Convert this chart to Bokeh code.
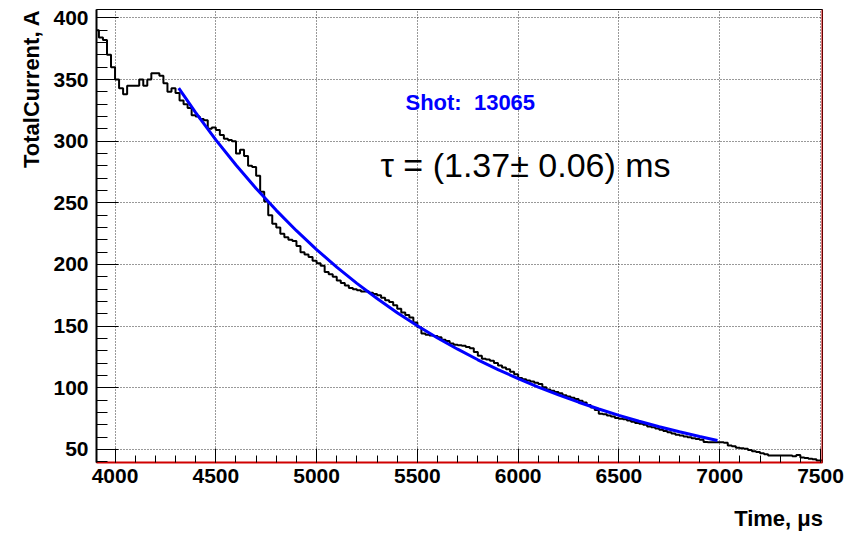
import numpy as np
from bokeh.plotting import figure
from bokeh.models import FixedTicker, Label, Span, Range1d, Title, LinearAxis
from bokeh.embed import file_html
from bokeh.resources import INLINE

# ---------------- data ----------------
bin_start = 3900      # us, left edge of first bin
bin_width = 20        # us
current = [
    390, 384, 382, 370, 360, 350, 343, 338, 345, 345,
    345, 350, 345, 350, 355, 355, 353, 347, 340, 343,
    339, 333, 330, 327, 321, 320, 318, 317, 310, 311,
    309, 305, 302, 301, 300, 290, 293, 288, 280, 279,
    272, 259, 251, 240, 233, 230, 225, 222, 220, 219,
    215, 210, 208, 206, 203, 201, 199, 194, 192, 190,
    187, 185, 183, 181, 180, 179, 178, 178, 177, 176,
    175, 173, 171, 169.5, 167, 164, 161, 159, 157, 153,
    149, 144, 143, 142.5, 142, 141, 139, 138, 136, 135,
    134.5, 134, 133, 132, 129, 126, 123.5, 123, 122, 120,
    118, 116.5, 115, 113, 111, 108, 107, 106, 105, 104,
    103, 100.5, 98.6, 97.5, 96.5, 95.5, 94, 93, 92, 91,
    89.5, 88, 86, 84, 82, 79, 78.5, 77.5, 76.7, 75.5,
    74.8, 74.5, 73.5, 72.5, 71.5, 70.8, 70, 68.6, 68, 67,
    65.9, 65, 64, 63, 62, 61.3, 60.5, 59.9, 59, 58.5,
    57.8, 56, 55.8, 55.8, 55.8, 55.8, 55.5, 53.2, 52.5, 51.3,
    51, 50.5, 49.5, 48.5, 48, 47, 46, 45, 45, 45,
    45, 45, 45, 44.5, 45.5, 43.5, 43, 42.5, 42, 41,
    41,
]

fit_time = [4316, 4400, 4500, 4600, 4700, 4800, 4900, 5000, 5100, 5200,
            5300, 5400, 5500, 5600, 5700, 5800, 5900, 6000, 6100, 6200,
            6300, 6400, 6500, 6600, 6700, 6800, 6900, 6989]
fit_current = [343, 323.2, 301.1, 280.7, 261.6, 243.9, 227.4, 212.1, 197.9, 184.7,
               172.4, 160.9, 150.3, 140.4, 131.3, 122.7, 114.8, 107.4, 100.5, 94.2,
               88.3, 82.8, 77.6, 72.9, 68.4, 64.3, 60.5, 57.2]

x_major = [4000, 4500, 5000, 5500, 6000, 6500, 7000, 7500]
y_major = [50, 100, 150, 200, 250, 300, 350, 400]

shot_text = "Shot:\u00a0\u00a013065"
tau_text = "\u03c4 = (1.37\u00b1 0.06) ms"
x_title = "Time, \u03bcs"
y_title = "TotalCurrent, A"

# ---------------- figure ----------------
FONT = "Liberation Sans"
X0, X1 = 3908, 7510
Y0, Y1 = 39.4, 406.8

p = figure(width=855, height=533, output_backend="svg", toolbar_location=None,
           x_range=Range1d(X0, X1), y_range=Range1d(Y0, Y1),
           min_border_left=96, min_border_right=33, min_border_top=9, min_border_bottom=71)
p.background_fill_color = "white"
p.border_fill_color = "white"
p.outline_line_color = "black"
p.outline_line_width = 1

x_minor = list(range(3900, 7501, 100))
y_minor = list(range(40, 401, 10))
xax = p.xaxis[0]
yax = p.yaxis[0]
xax.ticker = FixedTicker(ticks=x_major, minor_ticks=x_minor)
yax.ticker = FixedTicker(ticks=y_major, minor_ticks=y_minor)

for ax in (xax, yax):
    ax.major_label_text_font = FONT
    ax.major_label_text_font_style = "bold"
    ax.major_label_text_font_size = "21px"
    ax.major_label_text_color = "black"
    ax.major_tick_out = 0
    ax.minor_tick_out = 0
    ax.major_tick_line_color = "black"
    ax.minor_tick_line_color = "black"

xax.major_tick_in = 14
xax.minor_tick_in = 7
xax.major_label_standoff = 6
xax.axis_line_color = "#d00000"
xax.axis_line_width = 2

yax.major_tick_in = 22
yax.minor_tick_in = 11
yax.major_label_standoff = 8
yax.axis_line_color = "black"
yax.axis_line_width = 2

for g in (p.xgrid, p.ygrid):
    g.grid_line_color = "black"
    g.grid_line_dash = "1 2"
    g.grid_line_width = 1
    g.grid_line_alpha = 0.8

# histogram outline as steps
vals = np.array(current, dtype=float)
edges = bin_start + bin_width * np.arange(len(vals) + 1)
hx = np.repeat(edges, 2)[1:-1]
hy = np.repeat(vals, 2)
p.line(hx, hy, line_color="black", line_width=2)

# fit curve
p.line(fit_time, fit_current, line_color="#0000ff", line_width=3)

# right red edge
p.add_layout(Span(location=X1, dimension="height", line_color="#d00000", line_width=2))

# texts inside the frame
p.add_layout(Label(x=5441, y=331.4, text=shot_text, text_font=FONT, text_font_style="bold",
                   text_font_size="22px", text_color="#0000ff", text_baseline="middle"))
p.add_layout(Label(x=5317, y=280.3, text=tau_text, text_font=FONT,
                   text_font_size="34px", text_color="black", text_baseline="middle"))

# x-axis title: right-aligned under the axis, drawn as a second (bare) bottom axis
x_title_pos = 7292
title_axis = LinearAxis(ticker=FixedTicker(ticks=[x_title_pos], minor_ticks=[]),
                        major_label_overrides={x_title_pos: x_title},
                        axis_line_color=None, major_tick_line_color=None,
                        minor_tick_line_color=None, major_tick_out=0, major_tick_in=0,
                        minor_tick_out=0, minor_tick_in=0, major_label_standoff=20,
                        major_label_text_font=FONT, major_label_text_font_style="bold",
                        major_label_text_font_size="22px", major_label_text_color="black")
p.add_layout(title_axis, "below")

# y-axis title, top aligned
p.add_layout(Title(text=y_title, align="right", text_font=FONT, text_font_style="bold",
                   text_font_size="22px", text_color="black", standoff=13), "left")

open("out.html", "w").write(file_html(p, INLINE))
